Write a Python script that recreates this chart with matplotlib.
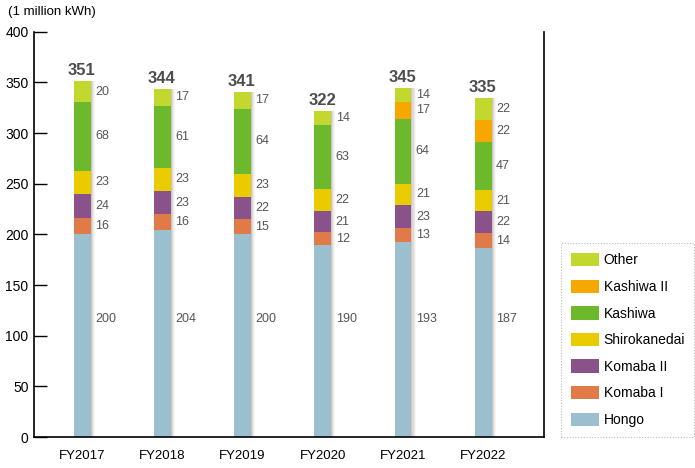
import numpy as np
import matplotlib.pyplot as plt
from matplotlib.patches import Patch

# Electricity use by campus (1 million kWh)
years = ["FY2017", "FY2018", "FY2019", "FY2020", "FY2021", "FY2022"]
hongo = [200, 204, 200, 190, 193, 187]
komaba1 = [16, 16, 15, 12, 13, 14]
komaba2 = [24, 23, 22, 21, 23, 22]
shirokanedai = [23, 23, 23, 22, 21, 21]
kashiwa = [68, 61, 64, 63, 64, 47]
kashiwa2 = [0, 0, 0, 0, 17, 22]
other = [20, 17, 17, 14, 14, 22]
totals = [351, 344, 341, 322, 345, 335]

series = [
    ("Hongo", hongo, "#9bbfcf"),
    ("Komaba I", komaba1, "#e07b48"),
    ("Komaba II", komaba2, "#8a528a"),
    ("Shirokanedai", shirokanedai, "#e9cc00"),
    ("Kashiwa", kashiwa, "#6cb92c"),
    ("Kashiwa II", kashiwa2, "#f6a800"),
    ("Other", other, "#c3d82e"),
]

plt.rcParams["font.family"] = ["Liberation Sans", "DejaVu Sans"]
label_grey = "#555555"

fig = plt.figure(figsize=(6.95, 4.68), dpi=100)
ax = fig.add_axes([0.049, 0.066, 0.734, 0.866])

x = np.arange(len(years))
w = 0.21

# soft shadow on the right side of each bar
for i, t in enumerate(totals):
    for k, a in enumerate([0.35, 0.22, 0.12, 0.05]):
        ax.bar(x[i] + w / 2 + k * 0.013, t, width=0.013, align="edge",
               color="#6e5a50", alpha=a, linewidth=0, zorder=1)

bottom = np.zeros(len(years))
for name, vals, col in series:
    vals = np.array(vals, dtype=float)
    ax.bar(x, vals, width=w, bottom=bottom, color=col, linewidth=0, zorder=2)
    for i, v in enumerate(vals):
        if v == 0:
            continue
        if name == "Hongo":
            ypos = 117
        else:
            ypos = bottom[i] + v / 2
        ax.text(x[i] + w / 2 + 0.055, ypos, f"{int(v)}", ha="left", va="center",
                fontsize=9, color=label_grey)
    bottom += vals

for i, t in enumerate(totals):
    ax.text(x[i] - 0.01, t + 3, str(t), ha="center", va="bottom",
            fontsize=12, fontweight="bold", color="#4d4d4d")

ax.set_xlim(-0.6, 5.76)
ax.set_ylim(0, 400)
ax.set_yticks(range(0, 401, 50))
ax.set_xticks(x)
ax.set_xticklabels(years, fontsize=9.5)
ax.tick_params(axis="y", direction="in", length=9, width=1, labelsize=10, pad=4)
ax.tick_params(axis="x", length=0, pad=9)
ax.spines["top"].set_visible(False)
for s in ["left", "bottom", "right"]:
    ax.spines[s].set_linewidth(1.2)

fig.text(0.012, 0.975, "(1 million kWh)", fontsize=9.5, va="center", ha="left")

handles = [Patch(facecolor=c, edgecolor="none") for _, _, c in series][::-1]
labels = [n for n, _, _ in series][::-1]
leg = fig.legend(handles, labels, loc="lower left",
                 bbox_to_anchor=(561 / 695, (468 - 437) / 468, 133 / 695, 199 / 468),
                 mode="expand", frameon=True, fancybox=False, fontsize=10,
                 handlelength=2.0, handleheight=1.1, labelspacing=0.88,
                 handletextpad=0.36, borderpad=0.72, borderaxespad=0)
leg.get_frame().set_edgecolor("#aaaaaa")
leg.get_frame().set_linestyle((0, (1, 1.5)))
leg.get_frame().set_linewidth(0.8)

fig.savefig("out.png", dpi=100)
